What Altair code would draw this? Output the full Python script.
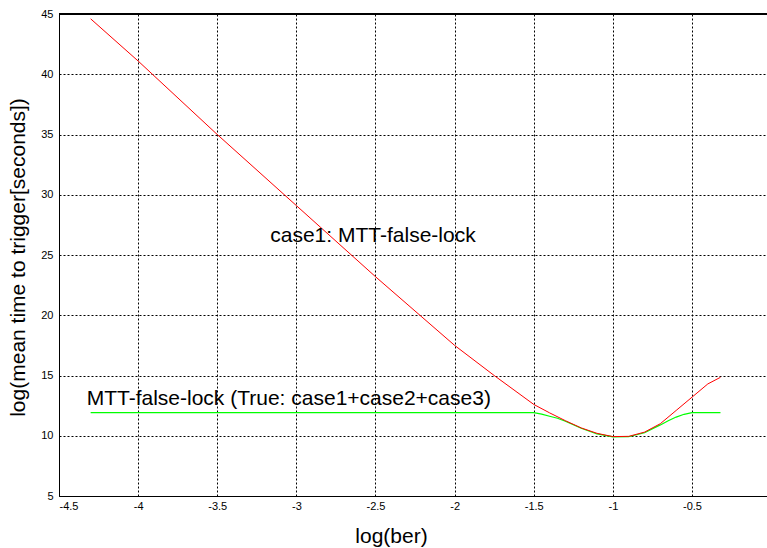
import altair as alt
import pandas as pd

# Red curve: case1 MTT-false-lock
red_x = [-4.3, -4.0, -3.5, -3.0, -2.5, -2.0, -1.75, -1.5, -1.4, -1.3, -1.2, -1.1,
         -1.0, -0.9, -0.8, -0.7, -0.6, -0.5, -0.4, -0.32]
red_y = [44.6, 41.1, 35.0, 29.1, 23.2, 17.5, 15.0, 12.6, 11.9, 11.25, 10.65, 10.2,
         9.93, 9.95, 10.3, 11.0, 12.1, 13.2, 14.3, 14.85]

# Green curve: MTT-false-lock (True)
green_x = [-4.3, -1.5, -1.45, -1.4, -1.35, -1.3, -1.2, -1.1, -1.0, -0.9, -0.8,
           -0.7, -0.65, -0.6, -0.55, -0.5, -0.32]
green_y = [11.92, 11.92, 11.8, 11.62, 11.45, 11.2, 10.62, 10.15, 9.9, 9.92, 10.25,
           10.9, 11.25, 11.55, 11.78, 11.92, 11.92]

x_ticks = [-4.5, -4.0, -3.5, -3.0, -2.5, -2.0, -1.5, -1.0, -0.5]
y_ticks = [5, 10, 15, 20, 25, 30, 35, 40, 45]

label_text = ["case1: MTT-false-lock", "MTT-false-lock (True: case1+case2+case3)"]
label_x = [-3.165, -4.325]
label_y = [26.55, 13.05]

FONT = "Liberation Sans"

red_df = pd.DataFrame({"x": red_x, "y": red_y})
green_df = pd.DataFrame({"x": green_x, "y": green_y})
lab_df = pd.DataFrame({"x": label_x, "y": label_y, "t": label_text})

xscale = alt.Scale(domain=[-4.5, -0.026], nice=False, zero=False)
yscale = alt.Scale(domain=[5, 45], nice=False, zero=False)

xaxis = alt.Axis(
    values=x_ticks, title="log(ber)", labelExpr="'' + datum.value",
    grid=True, gridColor="#000", gridDash=[2, 2], gridOpacity=1, gridWidth=1,
    domainColor="#000", ticks=False, labelPadding=4, labelFont=FONT,
    labelFontSize=11, labelColor="#000", titleFont=FONT, titleFontSize=21,
    titleFontWeight="normal", titleColor="#000", titleX=332, titleY=40,
    titleBaseline="middle", titleAlign="center",
)
yaxis = alt.Axis(
    values=y_ticks, title="log(mean time to trigger[seconds])",
    grid=True, gridColor="#000", gridDash=[2, 2], gridOpacity=1, gridWidth=1,
    domainColor="#000", ticks=False, labelPadding=6, labelFont=FONT,
    labelFontSize=11, labelColor="#000", titleFont=FONT, titleFontSize=21,
    titleFontWeight="normal", titleColor="#000", titleX=-41, titleY=243,
    titleBaseline="middle", titleAlign="center", titleAngle=-90,
)

base_red = alt.Chart(red_df).mark_line(color="#ff0000", strokeWidth=1).encode(
    x=alt.X("x:Q", scale=xscale, axis=xaxis),
    y=alt.Y("y:Q", scale=yscale, axis=yaxis),
)
green = alt.Chart(green_df).mark_line(color="#00ff00", strokeWidth=1.2).encode(
    x=alt.X("x:Q", scale=xscale), y=alt.Y("y:Q", scale=yscale)
)
top_rule = alt.Chart(red_df).mark_rule(color="#000", strokeWidth=1).encode(
    y=alt.datum(45)
)
labels = alt.Chart(lab_df).mark_text(
    align="left", baseline="middle", font=FONT, fontSize=21, color="#000"
).encode(x=alt.X("x:Q", scale=xscale), y=alt.Y("y:Q", scale=yscale), text="t:N")

chart = alt.layer(green, base_red, top_rule, labels).properties(
    width=708, height=482,
    autosize=alt.AutoSizeParams(type="none"),
    padding={"left": 59, "top": 14, "right": 0, "bottom": 52},
    background="white",
).configure_view(stroke=None)

chart.save("out.html", embed_options={"renderer": "svg", "actions": False})
